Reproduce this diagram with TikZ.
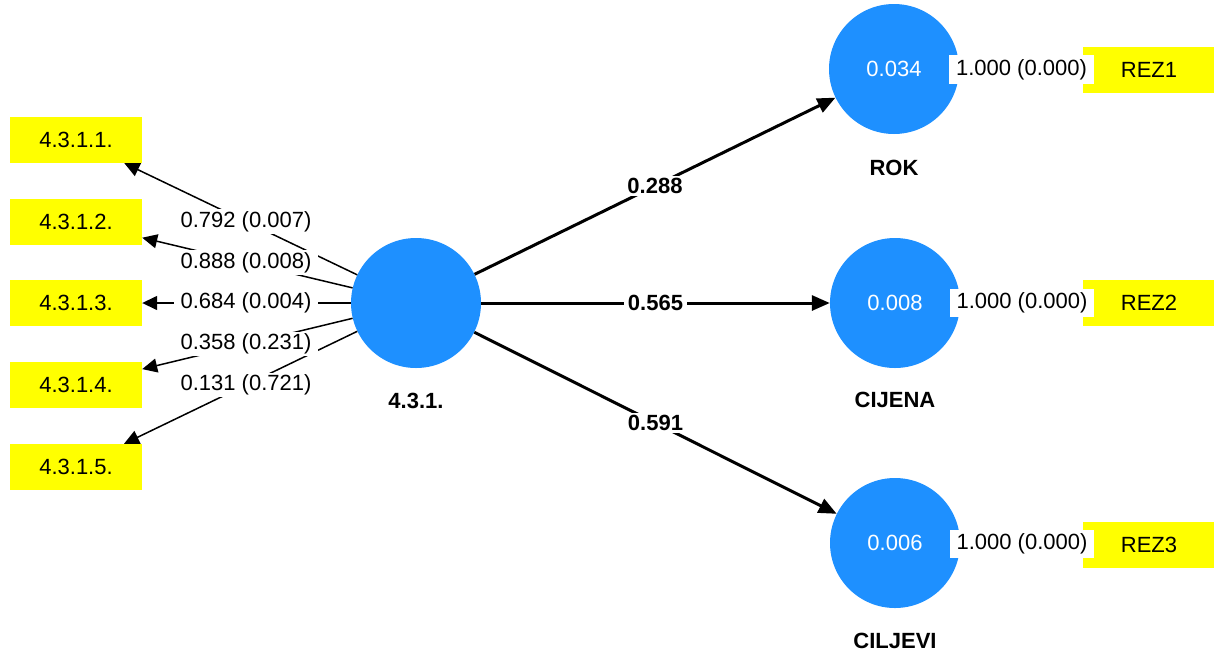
\documentclass[tikz,border=0pt]{standalone}
\usepackage{fontspec}
\setmainfont{Liberation Sans}
\usetikzlibrary{arrows.meta}
\definecolor{lvblue}{RGB}{30,144,255}
\definecolor{mvyellow}{RGB}{255,255,0}
\begin{document}
\begin{tikzpicture}[x=1pt,y=-1pt,
  txt/.style={font=\fontsize{22}{26}\selectfont},
  lv/.style={circle, fill=lvblue, minimum size=130pt, inner sep=0pt, text=white, txt},
  mv/.style={rectangle, fill=mvyellow, minimum width=132pt, minimum height=46pt, inner sep=0pt, txt},
  lvname/.style={font=\bfseries\fontsize{22}{26}\selectfont},
  loadarrow/.style={line width=1.5pt, -{Triangle[length=15pt,width=14pt]}},
  patharrow/.style={line width=3pt, -{Triangle[length=18pt,width=15pt]}},
  loadlab/.style={fill=white, inner xsep=7pt, inner ysep=2pt, txt},
  pathlab/.style={fill=white, inner xsep=4pt, inner ysep=2pt, font=\bfseries\fontsize{22}{26}\selectfont},
  outerlab/.style={fill=white, inner xsep=7pt, inner ysep=4pt, txt},
]
\useasboundingbox (0,0) rectangle (1214,654);
\fill[white] (0,0) rectangle (1214,654);

% latent variables
\node[lv] (c) at (416,303) {};
\node[lv] (rok) at (894,69) {0.034};
\node[lv] (cij) at (895,303) {0.008};
\node[lv] (cil) at (895,543) {0.006};

\node[lvname] (cn) at (416,401) {4.3.1.};
\node[lvname] (rn) at (894,168) {ROK};
\node[lvname] (jn) at (895,400) {CIJENA};
\node[lvname] (ln) at (895,641) {CILJEVI};

% indicators
\node[mv] (i1) at (76,140) {4.3.1.1.};
\node[mv] (i2) at (76,222) {4.3.1.2.};
\node[mv] (i3) at (76,303) {4.3.1.3.};
\node[mv] (i4) at (76,385) {4.3.1.4.};
\node[mv] (i5) at (76,467) {4.3.1.5.};
\node[mv] (r1) at (1149,70) {REZ1};
\node[mv] (r2) at (1149,303) {REZ2};
\node[mv] (r3) at (1149,545) {REZ3};

% outer loadings
\draw[loadarrow] (c) -- (i1);
\draw[loadarrow] (c) -- (i2);
\draw[loadarrow] (c) -- (i3);
\draw[loadarrow] (c) -- (i4);
\draw[loadarrow] (c) -- (i5);
\path (c.center) -- node[loadlab] {0.792 (0.007)} (i1.center);
\path (c.center) -- node[loadlab] {0.888 (0.008)} (i2.center);
\path (c.center) -- node[loadlab] {0.684 (0.004)} (i3.center);
\path (c.center) -- node[loadlab] {0.358 (0.231)} (i4.center);
\path (c.center) -- node[loadlab] {0.131 (0.721)} (i5.center);

% path coefficients
\draw[patharrow] (c) -- node[pathlab] {0.288} (rok);
\draw[patharrow] (c) -- node[pathlab] {0.565} (cij);
\draw[patharrow] (c) -- node[pathlab] {0.591} (cil);

% single-indicator loadings
\draw[loadarrow] (rok) -- (r1);
\draw[loadarrow] (cij) -- (r2);
\draw[loadarrow] (cil) -- (r3);
\path (rok.center) -- node[outerlab] {1.000 (0.000)} (r1.center);
\path (cij.center) -- node[outerlab] {1.000 (0.000)} (r2.center);
\path (cil.center) -- node[outerlab] {1.000 (0.000)} (r3.center);
\end{tikzpicture}
\end{document}
